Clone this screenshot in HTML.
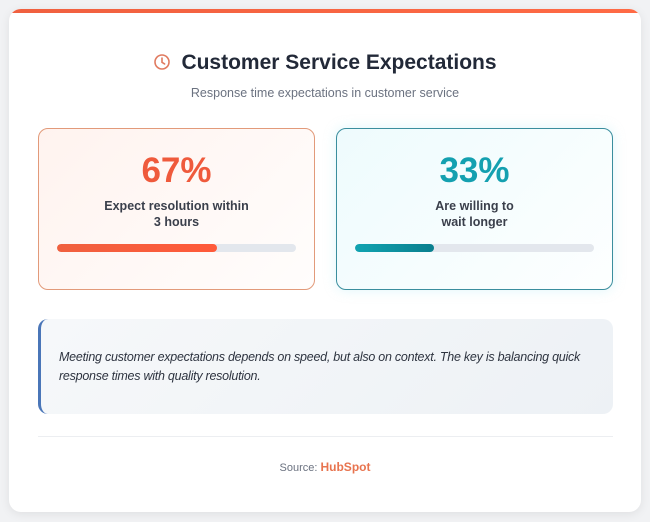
<!DOCTYPE html>
<html><head><meta charset="utf-8"><style>
*{box-sizing:border-box;margin:0;padding:0}
body{width:650px;height:522px;background:#f1f2f4;font-family:"Liberation Sans",Arial,sans-serif;position:relative;overflow:hidden}
.card{position:absolute;left:9px;top:9px;width:632px;height:503px;background:#fff;border-radius:12px;box-shadow:0 2px 10px rgba(0,0,0,.08);overflow:hidden}
.topbar{position:absolute;left:0;top:0;width:100%;height:4px;background:linear-gradient(90deg,#f0603f,#ff6a45)}
.abs{position:absolute}
h1{position:absolute;left:0;width:100%;top:42px;text-align:center;font-size:21px;font-weight:bold;color:#222938}
.sub{top:77px;left:0;width:100%;text-align:center;font-size:12.5px;color:#6b7280}
.stat{position:absolute;top:119px;width:277px;height:162px;border-radius:10px;text-align:center}
.s1{left:29px;border:1.3px solid #e29a7a;background:linear-gradient(135deg,#fff3ef,#fffdfc)}
.s2{left:327px;border:1.3px solid #3a8e9e;background:linear-gradient(135deg,#eefbfd,#fdffff);box-shadow:0 0 12px rgba(160,230,240,.35)}
.num{position:absolute;top:22px;left:0;width:100%;font-size:35px;font-weight:bold}
.lbl{position:absolute;top:69px;left:0;width:100%;font-size:12.5px;font-weight:bold;color:#3a3f4b;line-height:16px}
.bar{position:absolute;left:18px;top:115px;width:239px;height:8px;border-radius:4px;background:#e3e7ed;overflow:hidden}
.fill{height:100%;border-radius:4px}
.quote{position:absolute;left:29px;top:310px;width:575px;height:95px;border-radius:10px;background:linear-gradient(135deg,#f6f8fa,#edf1f5);border-left:3px solid #4a76b8}
.quote p{position:absolute;left:18px;top:29px;width:545px;font-size:12.5px;letter-spacing:-0.25px;font-style:italic;color:#2e3440;line-height:19px}
.hr{position:absolute;left:29px;top:427px;width:575px;height:1px;background:#eceef1}
.src{position:absolute;top:451px;left:0;width:100%;text-align:center;font-size:11px;color:#6b7280}
.src b{color:#e8744f;font-size:12px}
</style></head><body>
<div class="card">
<div class="topbar"></div>
<h1><svg width="18" height="18" viewBox="0 0 18 18" style="vertical-align:-2px;margin-right:10px"><circle cx="9" cy="9" r="7" fill="none" stroke="#e07a5f" stroke-width="1.6"/><path d="M9 5v4.3l2.6 1.6" fill="none" stroke="#e07a5f" stroke-width="1.6" stroke-linecap="round"/></svg>Customer Service Expectations</h1>
<div class="abs sub">Response time expectations in customer service</div>
<div class="stat s1"><div class="num" style="color:#ef5a3c">67%</div><div class="lbl">Expect resolution within<br>3 hours</div><div class="bar"><div class="fill" style="width:67%;background:linear-gradient(90deg,#f0603f,#ff5a3a)"></div></div></div>
<div class="stat s2"><div class="num" style="color:#14a0b0">33%</div><div class="lbl">Are willing to<br>wait longer</div><div class="bar"><div class="fill" style="width:33%;background:linear-gradient(90deg,#11a3b1,#0a7f8e)"></div></div></div>
<div class="quote"><p>Meeting customer expectations depends on speed, but also on context. The key is balancing quick response times with quality resolution.</p></div>
<div class="hr"></div>
<div class="src">Source: <b>HubSpot</b></div>
</div>
</body></html>
